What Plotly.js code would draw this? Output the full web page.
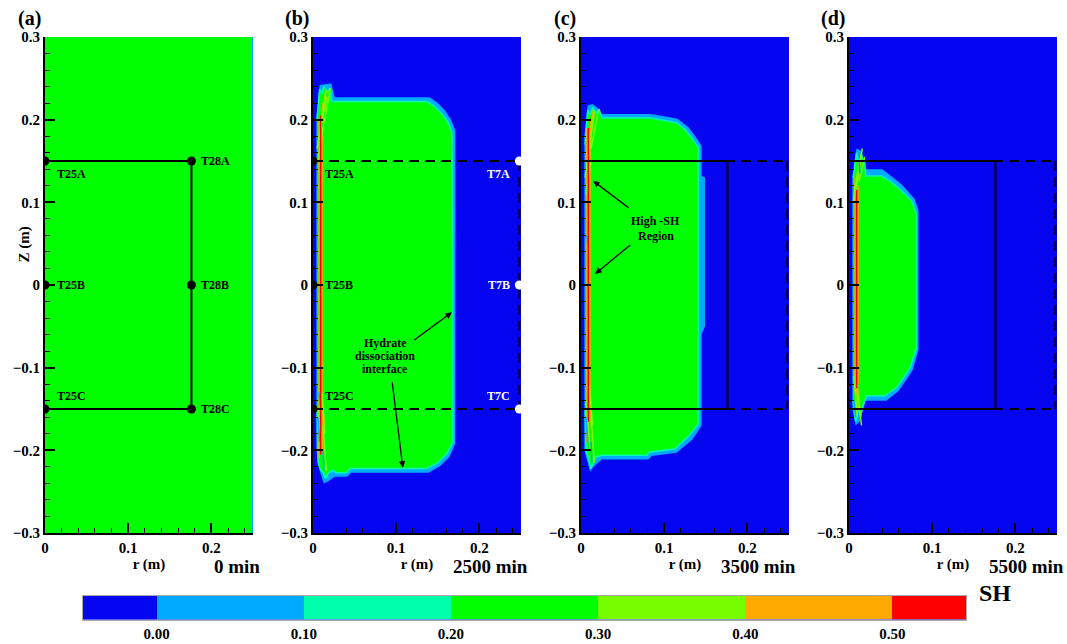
<!DOCTYPE html>
<html><head><meta charset="utf-8">
<script src="https://cdn.plot.ly/plotly-3.0.1.min.js"></script>
<style>html,body{margin:0;padding:0;background:#fff;}#chart{width:1067px;height:644px;}</style>
</head><body><div id="chart"></div>
<script>
// ---- colour levels (SH) ----
const levelEdges = [-0.05, 0, 0.1, 0.2, 0.3, 0.4, 0.5, 0.55];
const levelIndex = [0, 1, 2, 3, 4, 5, 6];
const levelColors = ['#0505f0', '#00aaff', '#00ffaa', '#00ff00', '#77ff00', '#ffaa00', '#ff0000'];
const levelTickVals = [0, 0.1, 0.2, 0.3, 0.4, 0.5];
const levelTickText = ['0.00', '0.10', '0.20', '0.30', '0.40', '0.50'];
const timeLabels = ['0 min', '2500 min', '3500 min', '5500 min'];
const panelLabels = ['(a)', '(b)', '(c)', '(d)'];

// ---- panel (a): 0 min ----
const aRimR = [0, 0.25, 0.25, 0, 0];
const aRimZ = [-0.3, -0.3, 0.3, 0.3, -0.3];
const aCoreR = [0, 0.2485, 0.2485, 0, 0];
const aCoreZ = [-0.3, -0.3, 0.3, 0.3, -0.3];

// ---- panel (b): 2500 min ----
const bRimR = [0.004, 0.008, 0.022, 0.026, 0.14, 0.149, 0.158, 0.166, 0.171, 0.171, 0.164, 0.153, 0.139, 0.046, 0.041, 0.026, 0.019, 0.013, 0.009, 0.004];
const bRimZ = [0.205, 0.242, 0.244, 0.227, 0.227, 0.221, 0.212, 0.2, 0.187, -0.192, -0.208, -0.219, -0.227, -0.227, -0.232, -0.232, -0.237, -0.24, -0.228, -0.2];
const bCoreR = [0.005, 0.008, 0.011, 0.013, 0.017, 0.021, 0.022, 0.137, 0.146, 0.155, 0.162, 0.167, 0.168, 0.161, 0.15, 0.137, 0.045, 0.04, 0.028, 0.024, 0.019, 0.015, 0.012, 0.009, 0.006, 0.005];
const bCoreZ = [0.2, 0.237, 0.231, 0.24, 0.234, 0.238, 0.222, 0.222, 0.216, 0.207, 0.197, 0.185, -0.19, -0.204, -0.215, -0.222, -0.222, -0.227, -0.227, -0.224, -0.227, -0.234, -0.226, -0.224, -0.214, -0.15];
const bRedR = [0.0092, 0.0092];
const bRedZ = [0.205, -0.205];
const bOrgR = [0.0073, 0.0073, null, 0.011, 0.011, null, 0.007, 0.012, null, 0.009, 0.016, null, 0.008, 0.012, null, 0.01, 0.014];
const bOrgZ = [0.2, -0.21, null, 0.19, -0.19, null, 0.17, 0.22, null, 0.2, 0.236, null, -0.16, -0.205, null, -0.13, -0.17];
const bYelR = [0.005, 0.013, null, 0.008, 0.016, null, 0.012, 0.021, null, 0.006, 0.012, null, 0.011, 0.017, null, 0.006, 0.01, null, 0.011, 0.014, null, 0.012, 0.016];
const bYelZ = [0.165, 0.215, null, 0.18, 0.235, null, 0.19, 0.238, null, 0.15, 0.19, null, 0.2, 0.228, null, -0.15, -0.2, null, -0.13, -0.18, null, -0.17, -0.225];
const bBlueR = [0.006, 0.008, null, 0.012, 0.013, null, 0.007, 0.009];
const bBlueZ = [-0.16, -0.19, null, -0.2, -0.225, null, -0.13, -0.145];

// ---- panel (c): 3500 min ----
const cRimR = [0.004, 0.008, 0.014, 0.02, 0.025, 0.083, 0.1, 0.116, 0.129, 0.138, 0.145, 0.145, 0.149, 0.149, 0.145, 0.145, 0.134, 0.115, 0.085, 0.081, 0.025, 0.015, 0.011, 0.004];
const cRimZ = [0.18, 0.217, 0.219, 0.214, 0.207, 0.207, 0.204, 0.201, 0.191, 0.179, 0.168, 0.132, 0.13, -0.05, -0.06, -0.17, -0.187, -0.203, -0.207, -0.211, -0.211, -0.22, -0.226, -0.2];
const cCoreR = [0.005, 0.008, 0.011, 0.014, 0.018, 0.022, 0.025, 0.083, 0.1, 0.115, 0.125, 0.133, 0.141, 0.141, 0.13, 0.122, 0.113, 0.083, 0.079, 0.025, 0.018, 0.015, 0.012, 0.009, 0.006, 0.005];
const cCoreZ = [0.17, 0.212, 0.205, 0.215, 0.208, 0.212, 0.202, 0.202, 0.199, 0.196, 0.188, 0.178, 0.166, -0.168, -0.182, -0.19, -0.198, -0.202, -0.206, -0.206, -0.208, -0.215, -0.222, -0.21, -0.2, -0.15];
const cRedR = [0.0088, 0.0088];
const cRedZ = [0.19, -0.165];
const cOrgR = [0.007, 0.007, null, 0.0108, 0.0108, null, 0.006, 0.012, null, 0.009, 0.015, null, 0.007, 0.011, null, 0.01, 0.013];
const cOrgZ = [0.19, -0.19, null, 0.17, -0.16, null, 0.15, 0.2, null, 0.17, 0.212, null, -0.15, -0.2, null, -0.13, -0.18];
const cYelR = [0.005, 0.012, null, 0.008, 0.016, null, 0.012, 0.021, null, 0.006, 0.012, null, 0.006, 0.01, null, 0.01, 0.014, null, 0.012, 0.016];
const cYelZ = [0.13, 0.18, null, 0.15, 0.21, null, 0.165, 0.212, null, 0.11, 0.15, null, -0.14, -0.19, null, -0.12, -0.17, null, -0.16, -0.215];
const cBlueR = [0.006, 0.008, null, 0.012, 0.013, null, 0.007, 0.009];
const cBlueZ = [-0.16, -0.19, null, -0.19, -0.215, null, 0.06, 0.04];

// ---- panel (d): 5500 min ----
const dRimR = [0.004, 0.009, 0.015, 0.02, 0.04, 0.052, 0.064, 0.079, 0.0835, 0.0835, 0.0765, 0.06, 0.045, 0.02, 0.013, 0.008, 0.004];
const dRimZ = [0.13, 0.165, 0.162, 0.14, 0.14, 0.131, 0.121, 0.104, 0.09, -0.078, -0.103, -0.128, -0.14, -0.14, -0.165, -0.17, -0.15];
const dCoreR = [0.005, 0.009, 0.012, 0.015, 0.019, 0.02, 0.039, 0.05, 0.061, 0.0755, 0.081, 0.081, 0.0735, 0.0575, 0.043, 0.021, 0.017, 0.014, 0.011, 0.008, 0.005];
const dCoreZ = [0.13, 0.16, 0.145, 0.158, 0.147, 0.132, 0.132, 0.125, 0.116, 0.1015, 0.086, -0.076, -0.1, -0.124, -0.134, -0.134, -0.145, -0.158, -0.15, -0.165, -0.14];
const dRedR = [0.0092, 0.0092];
const dRedZ = [0.115, -0.125];
const dOrgR = [0.0072, 0.0072, null, 0.011, 0.011, null, 0.006, 0.012, null, 0.009, 0.015, null, 0.007, 0.011, null, 0.01, 0.014];
const dOrgZ = [0.13, -0.13, null, 0.12, -0.12, null, 0.1, 0.15, null, 0.12, 0.16, null, -0.1, -0.15, null, -0.12, -0.16];
const dYelR = [0.005, 0.012, null, 0.008, 0.016, null, 0.012, 0.019, null, 0.006, 0.01, null, 0.01, 0.015];
const dYelZ = [0.1, 0.145, null, 0.115, 0.165, null, 0.125, 0.155, null, -0.11, -0.16, null, -0.125, -0.17];
const dBlueR = [0.006, 0.008, null, 0.012, 0.013];
const dBlueZ = [-0.14, -0.16, null, 0.15, 0.135];

// ---- measurement geometry ----
const rectR = [0, 0.176, 0.176, 0];
const rectZ = [0.15, 0.15, -0.15, -0.15];
const dashR = [0, 0.25, null, 0, 0.25, null, 0.248, 0.248];
const dashZ = [0.15, 0.15, null, -0.15, -0.15, null, 0.15, -0.15];
const aDotR = [0, 0, 0, 0.176, 0.176, 0.176];
const aDotZ = [0.15, 0, -0.15, 0.15, 0, -0.15];
const bDotR = [0, 0, 0];
const bDotZ = [0.15, 0, -0.15];
const bWhiteR = [0.248, 0.248, 0.248];
const bWhiteZ = [0.15, 0, -0.15];
const leftLabels = ['T25A', 'T25B', 'T25C'];
const midLabels = ['T28A', 'T28B', 'T28C'];
const rightLabels = ['T7A', 'T7B', 'T7C'];
const noteB = ['Hydrate', 'dissociation', 'interface'];
const noteBR = 0.087;
const noteBZ = [-0.07, -0.086, -0.102];
const noteC = ['High -SH', 'Region'];
const noteCR = 0.09;
const noteCZ = [0.077, 0.059];

// ---- layout geometry ----
const FONT = '"Liberation Serif", "Times New Roman", serif';
const W = 1067, H = 644;
const panelLeftPx = [45, 313, 581, 849];
const panelWidthPx = 208;
const plotTopPx = 37, plotBottomPx = 533;

const traces = [];
function fillT(ax, r, z, color, outline) {
  const t = {type: 'scatter', xaxis: 'x' + ax, yaxis: 'y' + ax, x: r, y: z, fill: 'toself', fillcolor: color,
    mode: outline ? 'lines' : 'none', hoverinfo: 'skip', showlegend: false};
  if (outline) t.line = {color: outline, width: 1.5};
  return t;
}
function lineT(ax, r, z, color, width, dash) {
  return {type: 'scatter', xaxis: 'x' + ax, yaxis: 'y' + ax, x: r, y: z, mode: 'lines',
    line: {color: color, width: width, dash: dash || 'solid'}, connectgaps: false, hoverinfo: 'skip', showlegend: false};
}
function dotT(ax, r, z, color) {
  return {type: 'scatter', xaxis: 'x' + ax, yaxis: 'y' + ax, x: r, y: z, mode: 'markers',
    marker: {color: color, size: 9, line: {width: 0}}, hoverinfo: 'skip', showlegend: false};
}
const ax = ['', '2', '3', '4'];

// panel a
traces.push(fillT('', aRimR, aRimZ, levelColors[1]));
traces.push(fillT('', aCoreR, aCoreZ, levelColors[3]));
traces.push(lineT('', rectR, rectZ, '#000', 2));

// panels b, c, d
const fields = [
  {rimR: bRimR, rimZ: bRimZ, coreR: bCoreR, coreZ: bCoreZ, redR: bRedR, redZ: bRedZ, orgR: bOrgR, orgZ: bOrgZ, yelR: bYelR, yelZ: bYelZ, bluR: bBlueR, bluZ: bBlueZ},
  {rimR: cRimR, rimZ: cRimZ, coreR: cCoreR, coreZ: cCoreZ, redR: cRedR, redZ: cRedZ, orgR: cOrgR, orgZ: cOrgZ, yelR: cYelR, yelZ: cYelZ, bluR: cBlueR, bluZ: cBlueZ},
  {rimR: dRimR, rimZ: dRimZ, coreR: dCoreR, coreZ: dCoreZ, redR: dRedR, redZ: dRedZ, orgR: dOrgR, orgZ: dOrgZ, yelR: dYelR, yelZ: dYelZ, bluR: dBlueR, bluZ: dBlueZ}
];
fields.forEach((f, i) => {
  const a = ax[i + 1];
  traces.push(fillT(a, f.rimR, f.rimZ, levelColors[1]));
  traces.push(fillT(a, f.coreR, f.coreZ, levelColors[3], levelColors[2]));
  traces.push(lineT(a, f.orgR, f.orgZ, levelColors[5], 1.3));
  traces.push(lineT(a, f.yelR, f.yelZ, levelColors[4], 1.5));
  traces.push(lineT(a, f.bluR, f.bluZ, levelColors[1], 1.5));
  traces.push(lineT(a, f.redR, f.redZ, levelColors[6], 1.5));
  traces.push(lineT(a, dashR, dashZ, '#000', 2, '10px,6px'));
  if (i > 0) traces.push(lineT(a, rectR, rectZ, '#000', 2));
});
traces.push(dotT('', aDotR, aDotZ, '#000'));
traces.push(dotT('2', bDotR, bDotZ, '#000'));
traces.push(dotT('2', bWhiteR, bWhiteZ, '#fff'));

// colour bar as a heatmap strip
traces.push({type: 'heatmap', xaxis: 'x5', yaxis: 'y5', x: levelEdges, z: [levelIndex], zmin: 0, zmax: 6,
  colorscale: levelColors.map((c, i) => [i / 6, c]), showscale: false, hoverinfo: 'skip'});

const tickFont = {family: FONT, size: 15, color: '#000', weight: 'bold'};
const yDomain = [1 - plotBottomPx / H, 1 - plotTopPx / H];
const layout = {
  width: W, height: H, margin: {l: 0, r: 0, t: 0, b: 0},
  paper_bgcolor: '#fff', plot_bgcolor: levelColors[0], showlegend: false,
  font: {family: FONT, color: '#000'},
  annotations: []
};
for (let i = 0; i < 4; i++) {
  const a = ax[i];
  const x0 = panelLeftPx[i] / W, x1 = (panelLeftPx[i] + panelWidthPx) / W;
  layout['xaxis' + a] = {
    domain: [x0, x1], anchor: 'y' + a, range: [0, 0.25], showline: true, linecolor: '#000', linewidth: 2,
    ticks: 'inside', ticklen: 10, tickwidth: 2, tickcolor: '#000', tickmode: 'linear', tick0: 0, dtick: 0.1,
    minor: {dtick: 0.02, ticks: 'inside', ticklen: 5, tickwidth: 1, tickcolor: '#000'},
    showgrid: false, zeroline: false, tickfont: tickFont,
    title: {text: 'r (m)', font: {family: FONT, size: 15, color: '#000', weight: 'bold'}, standoff: 3}
  };
  layout['yaxis' + a] = {
    domain: yDomain, anchor: 'x' + a, range: [-0.3, 0.3], showline: true, linecolor: '#000', linewidth: 2,
    ticks: 'inside', ticklen: 10, tickwidth: 2, tickcolor: '#000', tickmode: 'linear', tick0: 0, dtick: 0.1,
    minor: {dtick: 0.02, ticks: 'inside', ticklen: 5, tickwidth: 1, tickcolor: '#000'},
    showgrid: false, zeroline: false, tickfont: tickFont
  };
  layout.annotations.push({xref: 'paper', yref: 'paper', x: (panelLeftPx[i] + panelWidthPx + 9) / W, y: 1 - 566 / H,
    xanchor: 'right', yanchor: 'middle', showarrow: false, text: timeLabels[i],
    font: {family: FONT, size: 19, color: '#000', weight: 'bold'}});
  layout.annotations.push({xref: 'paper', yref: 'paper', x: (panelLeftPx[i] - 16) / W, y: 1 - 19 / H,
    xanchor: 'center', yanchor: 'middle', showarrow: false, text: panelLabels[i],
    font: {family: FONT, size: 20, color: '#000', weight: 'bold'}});
}
layout.xaxis5 = {domain: [83 / W, 966 / W], anchor: 'y5', range: [-0.05, 0.55], tickmode: 'array',
  tickvals: levelTickVals, ticktext: levelTickText, ticks: '', showline: true, mirror: true, linecolor: '#aaa', linewidth: 1,
  showgrid: false, zeroline: false, tickfont: tickFont};
layout.yaxis5 = {domain: [1 - 619.5 / H, 1 - 595.5 / H], anchor: 'x5', range: [-0.5, 0.5], showticklabels: false, ticks: '',
  showline: true, mirror: true, linecolor: '#aaa', linewidth: 1, showgrid: false, zeroline: false};

const lblFont = {family: FONT, size: 12, color: '#000', weight: 'bold'};
const whiteFont = {family: FONT, size: 12, color: '#fff', weight: 'bold'};
const anchorsY = ['top', 'middle', 'bottom'];
const shiftsY = [-4, 0, 4];
['', '2'].forEach(a => {
  leftLabels.forEach((t, k) => layout.annotations.push({xref: 'x' + a, yref: 'y' + a, x: 0, y: bDotZ[k], text: t,
    showarrow: false, xanchor: 'left', yanchor: anchorsY[k], xshift: 10, yshift: shiftsY[k], font: lblFont}));
});
midLabels.forEach((t, k) => layout.annotations.push({xref: 'x', yref: 'y', x: aDotR[k + 3], y: aDotZ[k + 3], text: t,
  showarrow: false, xanchor: 'left', yanchor: 'middle', xshift: 8, font: lblFont}));
rightLabels.forEach((t, k) => layout.annotations.push({xref: 'x2', yref: 'y2', x: bWhiteR[k], y: bWhiteZ[k], text: t,
  showarrow: false, xanchor: 'right', yanchor: anchorsY[k], xshift: -7, yshift: shiftsY[k], font: whiteFont}));

const noteFont = {family: FONT, size: 12, color: '#000', weight: 'bold'};
noteB.forEach((t, k) => layout.annotations.push({xref: 'x2', yref: 'y2', x: noteBR, y: noteBZ[k], text: t,
  showarrow: false, align: 'center', borderpad: 0, font: noteFont}));
noteC.forEach((t, k) => layout.annotations.push({xref: 'x3', yref: 'y3', x: noteCR, y: noteCZ[k], text: t,
  showarrow: false, align: 'center', borderpad: 0, font: noteFont}));
const arrows = [
  ['2', 0.167, -0.033, 0.120, -0.068],
  ['2', 0.108, -0.221, 0.095, -0.116],
  ['3', 0.0145, 0.126, 0.059, 0.092],
  ['3', 0.0169, 0.0133, 0.061, 0.050]
];
arrows.forEach(([a, x, y, tx, ty]) => layout.annotations.push({xref: 'x' + a, yref: 'y' + a, axref: 'x' + a, ayref: 'y' + a,
  x: x, y: y, ax: tx, ay: ty, text: '', showarrow: true, arrowhead: 2, arrowsize: 1, arrowwidth: 1.3, arrowcolor: '#000'}));

layout.annotations.push({xref: 'paper', yref: 'paper', x: 13 / W, y: 1 - 245 / H, text: 'Z (m)', textangle: -90,
  showarrow: false, font: {family: FONT, size: 15, color: '#000', weight: 'bold'}});
layout.annotations.push({xref: 'paper', yref: 'paper', x: 1013 / W, y: 1 - 608 / H, text: 'SH',
  showarrow: false, font: {family: FONT, size: 24, color: '#000', weight: 'bold'}});

Plotly.newPlot('chart', traces, layout, {staticPlot: true, displayModeBar: false});
</script>
</body></html>
